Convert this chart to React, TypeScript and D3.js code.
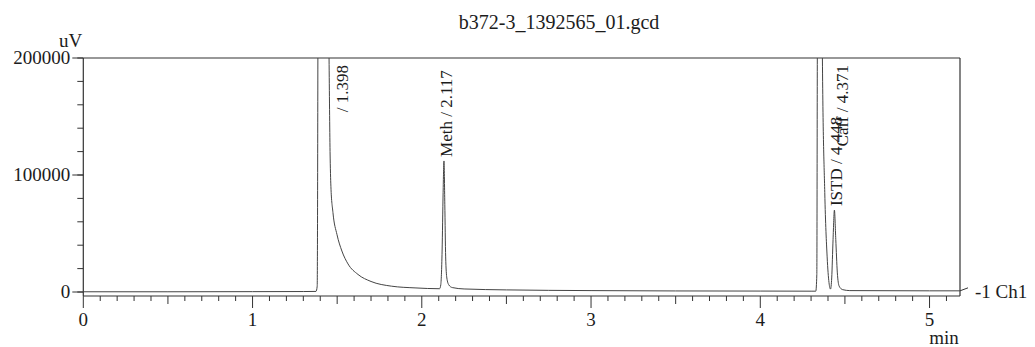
import React from "react";
import * as d3 from "d3";

// ---- data ----
const title = "b372-3_1392565_01.gcd";
const yUnit = "uV";
const xUnit = "min";
const channelLabel = "-1 Ch1";

const traceTime = [
  0.0, 0.5, 1.0, 1.3, 1.375,
  1.382, 1.386, 1.392, 1.398, 1.42, 1.44, 1.452, 1.458, 1.463, 1.475, 1.499,
  1.528, 1.564, 1.623, 1.7, 1.82, 1.96, 2.105,
  2.112, 2.12, 2.126, 2.131, 2.136, 2.141, 2.148, 2.16, 2.18, 2.25,
  2.5, 3.0, 3.5, 4.0, 4.3,
  4.328, 4.334, 4.337, 4.352, 4.367, 4.381, 4.395, 4.406, 4.415,
  4.422, 4.43, 4.438, 4.446, 4.455, 4.466, 4.487, 4.529, 5.0, 5.18,
];
const traceValue = [
  200, 200, 300, 400, 500,
  5000, 200000, 900000, 1200000, 900000, 400000, 200000, 120000, 90000, 68000, 49000,
  35000, 24000, 15000, 9000, 5000, 3500, 2800,
  6000, 35000, 85000, 112000, 75000, 30000, 12000, 6000, 3800, 2600,
  1800, 1200, 900, 800, 700,
  700, 15000, 200000, 800000, 200000, 85000, 30000, 8000, 2500,
  12000, 45000, 70000, 45000, 17000, 5000, 2000, 1200, 1000, 1000,
];

const peakLabels = ["/ 1.398", "Meth / 2.117", "Caff / 4.371", "ISTD / 4.448"];
const peakTimes = [1.398, 2.117, 4.371, 4.448];

const xDomain = [0, 5.18];
const yDomain = [0, 200000];
const xTickValues = [0, 1, 2, 3, 4, 5];
const xTickLabels = ["0", "1", "2", "3", "4", "5"];
const yTickValues = [0, 100000, 200000];
const yTickLabels = ["0", "100000", "200000"];

// ---- layout ----
const W = 1035;
const H = 347;
const left = 83.3;
const right = 960;
const top = 58;
const zeroY = 292;
const axisY = 296;
const FONT = "'Liberation Serif', 'Times New Roman', serif";
const INK = "#1c1c1c";
const LINE = "#333";

export default function App() {
  const x = d3.scaleLinear().domain(xDomain).range([left, right]);
  const y = d3.scaleLinear().domain(yDomain).range([zeroY, top]);

  const pts: [number, number][] = traceTime.map((t, i) => [t, traceValue[i]]);
  const line = d3
    .line<[number, number]>()
    .x((d) => x(d[0]))
    .y((d) => y(d[1]))
    .curve(d3.curveMonotoneX);

  const minorX = d3.range(0, 52).map((i) => i / 10).filter((t) => t <= xDomain[1] + 1e-9);
  const minorY = d3.range(0, 11).map((i) => i * 20000);
  const yMax = yDomain[1];

  const labels = peakLabels.map((txt, k) => {
    const rt = peakTimes[k];
    let best = -1;
    pts.forEach((p, i) => {
      if (Math.abs(p[0] - rt) <= 0.03 && (best < 0 || p[1] > pts[best][1])) best = i;
    });
    const apex = pts[best];
    if (apex[1] > yMax) {
      return { txt, cx: x(apex[0]) + 22, cy: top + 7, anchor: "end" };
    }
    return { txt, cx: x(apex[0]) + 2, cy: y(apex[1]) - 4, anchor: "start" };
  });

  const last = pts[pts.length - 1];
  const endX = x(last[0]);
  const endY = y(last[1]);

  return (
    <svg
      width={W}
      height={H}
      viewBox={`0 0 ${W} ${H}`}
      style={{ position: "absolute", left: 0, top: 0, background: "#fff" }}
      fontFamily={FONT}
    >
      <defs>
        <clipPath id="plotClip">
          <rect x={left} y={top} width={right - left} height={axisY - top} />
        </clipPath>
      </defs>

      {/* title */}
      <text x={559} y={29} fontSize={20} textAnchor="middle" fill={INK}>
        {title}
      </text>

      {/* frame */}
      <g stroke={LINE} strokeWidth={1.2} fill="none">
        <line x1={left} x2={right} y1={top} y2={top} />
        <line x1={right} x2={right} y1={top} y2={axisY} />
        <line x1={left} x2={right} y1={axisY} y2={axisY} />
        <line x1={left} x2={left} y1={top} y2={axisY} />
      </g>

      {/* y ticks */}
      <g stroke={LINE} strokeWidth={1}>
        {minorY.map((v) => (
          <line key={v} x1={left - 6} x2={left} y1={y(v)} y2={y(v)} />
        ))}
        {yTickValues.map((v) => (
          <line key={"M" + v} x1={left - 11} x2={left} y1={y(v)} y2={y(v)} />
        ))}
      </g>
      {yTickValues.map((v, i) => (
        <text key={v} x={left - 13} y={y(v)} dy="0.34em" fontSize={19} textAnchor="end" fill={INK}>
          {yTickLabels[i]}
        </text>
      ))}
      <text x={left - 1} y={47} fontSize={19} textAnchor="end" fill={INK}>
        {yUnit}
      </text>

      {/* x ticks */}
      <g stroke={LINE} strokeWidth={1}>
        {minorX.map((t) => {
          const r = Math.round(t * 10);
          const len = r % 10 === 0 ? 12 : r % 5 === 0 ? 8 : 5;
          return <line key={r} x1={x(t)} x2={x(t)} y1={axisY} y2={axisY + len} />;
        })}
      </g>
      {xTickValues.map((t, i) => (
        <text key={t} x={x(t)} y={326} fontSize={19} textAnchor="middle" fill={INK}>
          {xTickLabels[i]}
        </text>
      ))}
      <text x={944} y={344} fontSize={19} textAnchor="middle" fill={INK}>
        {xUnit}
      </text>

      {/* trace */}
      <path
        d={line(pts) || ""}
        fill="none"
        stroke="#444"
        strokeWidth={1}
        clipPath="url(#plotClip)"
      />

      {/* channel marker */}
      <line x1={endX} y1={endY} x2={endX + 8} y2={endY - 3} stroke={LINE} strokeWidth={1} />
      <text x={975} y={endY + 1} dy="0.34em" fontSize={19} fill={INK}>
        {channelLabel}
      </text>

      {/* peak labels */}
      {labels.map((l) => (
        <text
          key={l.txt}
          transform={`translate(${l.cx},${l.cy}) rotate(-90)`}
          dy="0.35em"
          fontSize={17}
          textAnchor={l.anchor}
          fill={INK}
        >
          {l.txt}
        </text>
      ))}
    </svg>
  );
}
